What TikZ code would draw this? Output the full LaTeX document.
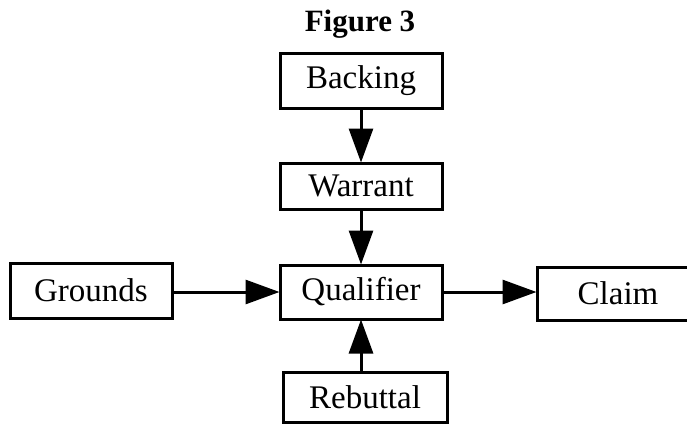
\documentclass[tikz,border=0pt]{standalone}
\usepackage{fontspec}
\setmainfont{Liberation Serif}
\usetikzlibrary{arrows.meta}
\tikzset{
  stage/.style={draw=black, line width=3pt, inner sep=0pt, fill=white,
    font=\fontsize{33}{33}\selectfont, anchor=center},
  flow/.style={draw=black, line width=3pt,
    -{Triangle[length=34pt,width=24pt]}, shorten >=-1pt},
}
\begin{document}
\begin{tikzpicture}[x=1pt, y=-1pt]
  \useasboundingbox (0,0) rectangle (687,423);
  \begin{scope}
    \clip (0,0) rectangle (687,423);
    % title
    \node[font=\fontsize{31}{31}\selectfont\bfseries, anchor=base] (title) at (360,31) {Figure 3};
    % stages of the argument
    \node[stage, minimum width=162pt, minimum height=55pt] (backing) at (361,81) {Backing};
    \node[stage, minimum width=162pt, minimum height=46pt] (warrant) at (361,186) {Warrant};
    \node[stage, minimum width=162pt, minimum height=54pt] (qualifier) at (361,292) {Qualifier};
    \node[stage, minimum width=162pt, minimum height=55pt] (grounds) at (91,290.5) {Grounds};
    \node[stage, minimum width=162pt, minimum height=53pt] (claim) at (618,293.5) {Claim};
    \node[stage, minimum width=164pt, minimum height=50pt] (rebuttal) at (365,397) {Rebuttal};
    % connectors
    \draw[flow] (backing.south) -- (warrant.north);
    \draw[flow] (warrant.south) -- (qualifier.north);
    \draw[flow] (grounds.east |- qualifier.west) -- (qualifier.west);
    \draw[flow] (qualifier.east) -- (claim.west |- qualifier.east);
    \draw[flow] (rebuttal.north -| qualifier.south) -- (qualifier.south);
  \end{scope}
\end{tikzpicture}
\end{document}
